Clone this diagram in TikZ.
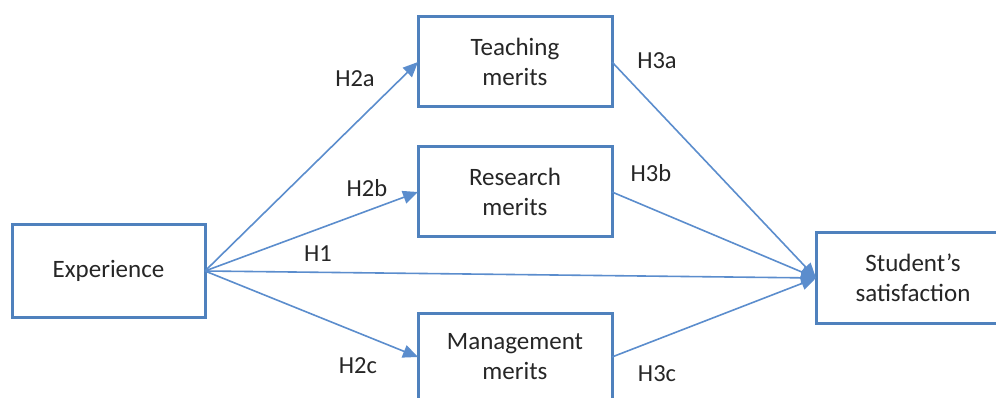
\documentclass[tikz,border=0pt]{standalone}
\usepackage{fontspec}
\setmainfont{Carlito}
\usetikzlibrary{arrows.meta}
\definecolor{boxblue}{RGB}{79,129,189}
\definecolor{lineblue}{RGB}{91,141,205}
\begin{document}
\begin{tikzpicture}[x=1pt,y=-1pt,
  box/.style={draw=boxblue,line width=3pt,fill=white,minimum width=194pt,minimum height=90pt,
    align=center,inner sep=0pt,outer sep=0pt,text=black!85,font=\fontsize{25}{30}\selectfont},
  conn/.style={draw=lineblue,line width=1.6pt},
  arr/.style={conn,-{Triangle[length=15pt,width=13pt]}},
  lab/.style={text=black!85,font=\fontsize{24.5}{28}\selectfont,inner sep=0pt}]
\clip (0,0) rectangle (996,398);
\fill[white] (0,0) rectangle (996,398);
\node[box,minimum width=193pt,minimum height=92pt] (exp) at (108.5,271) {Experience};
\node[box] (teach) at (515,62) {Teaching\\merits};
\node[box] (res) at (515,192) {Research\\merits};
\node[box,minimum height=88pt] (man) at (515,357) {Management\\merits};
\node[box] (stu) at (913,278) {Student’s\\satisfaction};
\draw[arr] (exp.east) -- (teach.west);
\draw[arr] (exp.east) -- (res.west);
\draw[arr] (exp.east) -- (man.west);
\draw[arr] (exp.east) -- (stu.west);
\draw[arr] (teach.east) -- (stu.west);
\draw[arr] (res.east) -- (stu.west);
\draw[arr] (man.east) -- (stu.west);
\node[lab] (h2a) at (355,79) {H2a};
\node[lab] (h2b) at (367,188) {H2b};
\node[lab] (h1) at (318,254) {H1};
\node[lab] (h2c) at (358,366) {H2c};
\node[lab] (h3a) at (657,61) {H3a};
\node[lab] (h3b) at (651,173) {H3b};
\node[lab] (h3c) at (657,374) {H3c};
\end{tikzpicture}
\end{document}
